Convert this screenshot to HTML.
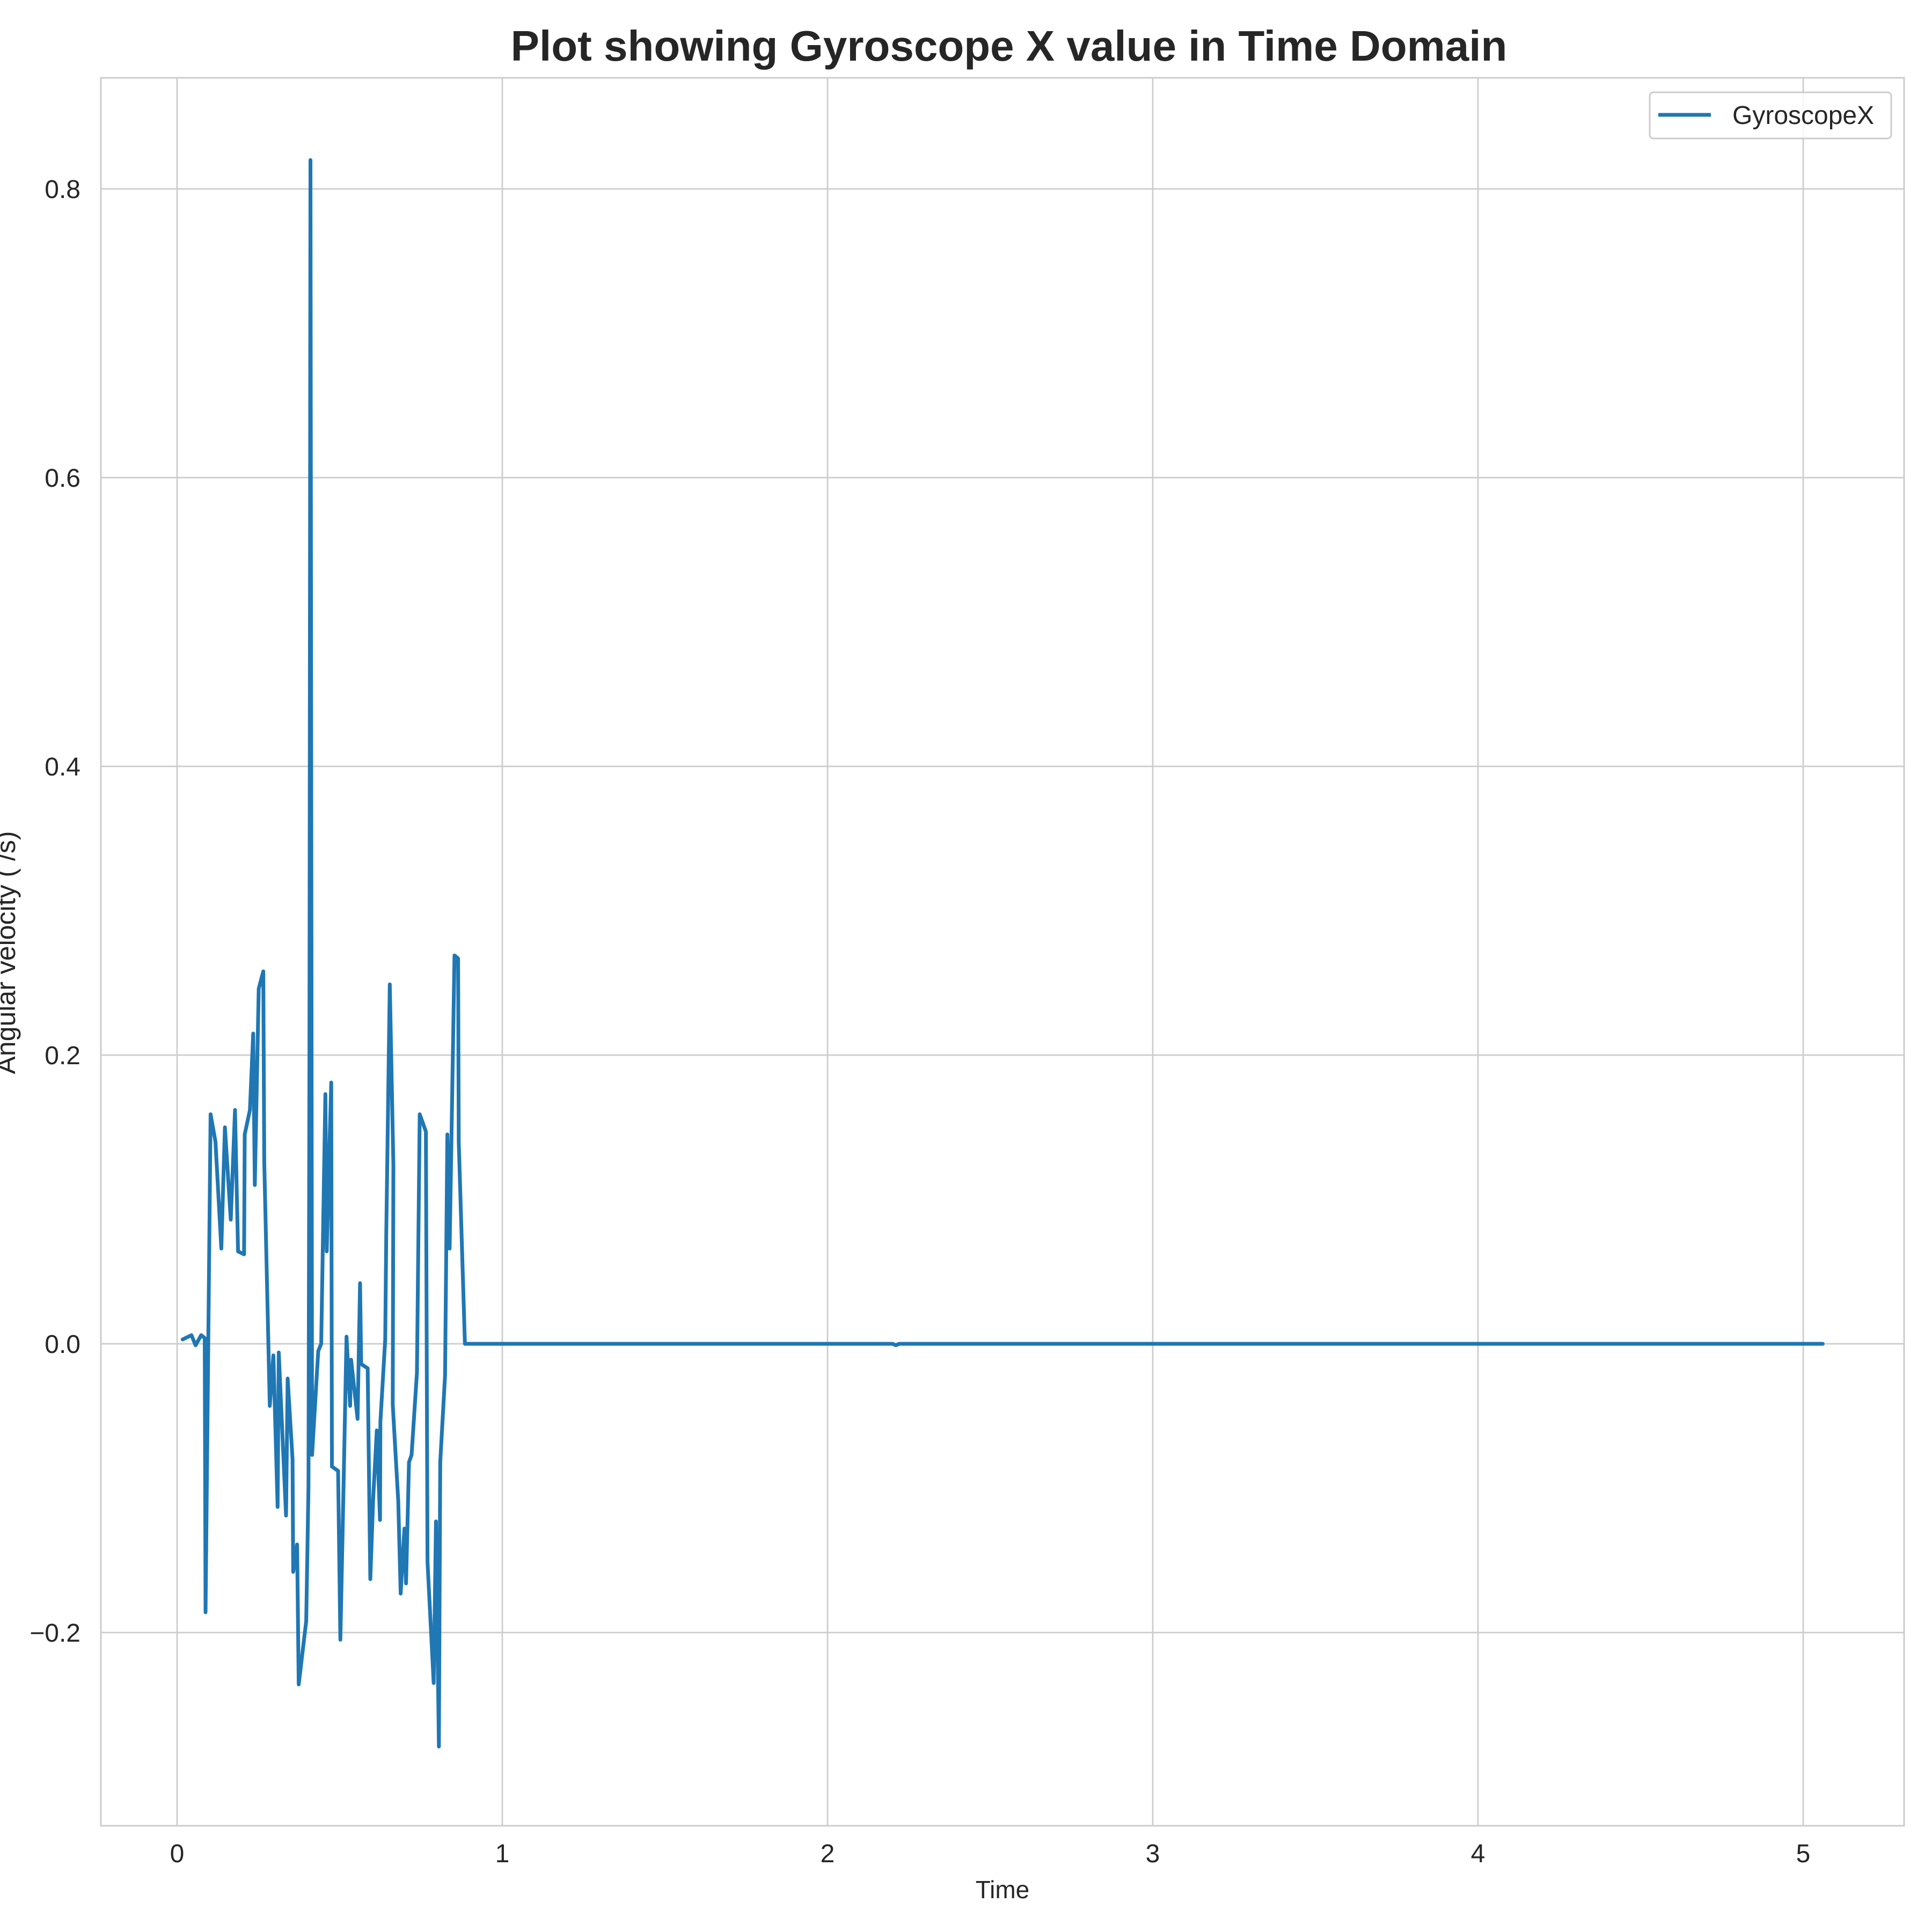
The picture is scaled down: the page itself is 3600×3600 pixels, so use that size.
<!DOCTYPE html>
<html><head><meta charset="utf-8"><style>
html,body{margin:0;padding:0;background:#fff}
svg{display:block}
text{font-family:"Liberation Sans",Arial,sans-serif;fill:#262626}
</style></head><body>
<svg id="chart" width="3600" height="3600" viewBox="0 0 3600 3600">
<rect x="0" y="0" width="3600" height="3600" fill="#fff"/>
<g id="grid"></g>
<g id="xticks"></g>
<g id="yticks"></g>
<path id="series" fill="none" stroke="#1f77b4" stroke-width="7" stroke-linejoin="round" stroke-linecap="round"/>
<rect x="188" y="145" width="3360" height="3257" fill="none" stroke="#cccccc" stroke-width="3"/>
<text x="1880" y="113" text-anchor="middle" font-size="80" font-weight="bold">Plot showing Gyroscope X value in Time Domain</text>
<text x="1868" y="3537" text-anchor="middle" font-size="46">Time</text>
<text transform="translate(28,1775) rotate(-90)" text-anchor="middle" font-size="50">Angular velocity ( /s)</text>
<g>
<rect x="3074" y="172" width="450" height="86" rx="7" fill="#fff" fill-opacity="0.8" stroke="#cccccc" stroke-width="3"/>
<line x1="3090" y1="214" x2="3188" y2="214" stroke="#1f77b4" stroke-width="7"/>
<text x="3228" y="231" font-size="48">GyroscopeX</text>
</g>
</svg>
<script>
const times = [0.017,0.044,0.057,0.074,0.085,0.0875,0.103,0.118,0.136,0.147,0.165,0.178,0.1875,0.206,0.208,0.224,0.234,0.239,0.251,0.265,0.268,0.285,0.296,0.309,0.3125,0.335,0.340,0.355,0.357,0.369,0.374,0.397,0.404,0.407,0.410,0.415,0.434,0.443,0.456,0.460,0.474,0.476,0.495,0.502,0.511,0.521,0.532,0.535,0.555,0.5625,0.566,0.586,0.594,0.603,0.614,0.624,0.625,0.640,0.643,0.654,0.665,0.663,0.680,0.6875,0.699,0.704,0.713,0.721,0.7375,0.746,0.765,0.770,0.789,0.796,0.805,0.809,0.824,0.831,0.838,0.853,0.864,0.866,0.885,2.2,2.21,2.22,5.06];
const gyroX = [0.003,0.006,-0.001,0.006,0.004,-0.186,0.159,0.14,0.066,0.15,0.086,0.162,0.064,0.062,0.145,0.162,0.215,0.11,0.246,0.258,0.126,-0.043,-0.008,-0.113,-0.006,-0.119,-0.024,-0.08,-0.158,-0.139,-0.236,-0.192,-0.099,0.2,0.82,-0.077,-0.005,0.0,0.173,0.064,0.181,-0.085,-0.088,-0.205,-0.107,0.005,-0.043,-0.011,-0.052,0.042,-0.014,-0.017,-0.163,-0.107,-0.06,-0.122,-0.054,0.003,0.075,0.249,0.124,-0.042,-0.109,-0.173,-0.128,-0.166,-0.082,-0.077,-0.020,0.159,0.147,-0.151,-0.235,-0.123,-0.279,-0.082,-0.022,0.145,0.066,0.269,0.267,0.140,0.0,0.0,-0.001,0.0,0.0];
const xTicks = [0,1,2,3,4,5];
const yTicks = [-0.2,0.0,0.2,0.4,0.6,0.8];
const yTickLabels = ["\u22120.2","0.0","0.2","0.4","0.6","0.8"];

const NS = "http://www.w3.org/2000/svg";
const X0 = 188, X1 = 3548, Y0 = 145, Y1 = 3402;
function xs(t){ return 330 + t * 606; }
function ys(v){ return 2504 - v * 2690; }
const grid = document.getElementById('grid');
const xt = document.getElementById('xticks');
const yt = document.getElementById('yticks');
xTicks.forEach(t => {
  const l = document.createElementNS(NS,'line');
  
  
  l.setAttribute('x1',xs(t)); l.setAttribute('x2',xs(t));
  l.setAttribute('y1',Y0); l.setAttribute('y2',Y1);
  l.setAttribute('stroke','#cccccc'); l.setAttribute('stroke-width','2.7');
  grid.appendChild(l);
  const tx = document.createElementNS(NS,'text');
  
  
  tx.setAttribute('x',xs(t)); tx.setAttribute('y',3470);
  tx.setAttribute('text-anchor','middle'); tx.setAttribute('font-size','48');
  tx.textContent = String(t);
  xt.appendChild(tx);
});
yTicks.forEach((v,i) => {
  const l = document.createElementNS(NS,'line');
  
  
  l.setAttribute('x1',X0); l.setAttribute('x2',X1);
  l.setAttribute('y1',ys(v)); l.setAttribute('y2',ys(v));
  l.setAttribute('stroke','#cccccc'); l.setAttribute('stroke-width','2.7');
  grid.appendChild(l);
  const tx = document.createElementNS(NS,'text');
  
  
  tx.setAttribute('x',150); tx.setAttribute('y',ys(v)+17);
  tx.setAttribute('text-anchor','end'); tx.setAttribute('font-size','48');
  tx.textContent = yTickLabels[i];
  yt.appendChild(tx);
});
let d = '';
times.forEach((t,i) => { d += (i ? 'L' : 'M') + xs(t).toFixed(1) + ',' + ys(gyroX[i]).toFixed(1); });
document.getElementById('series').setAttribute('d', d);
</script>
</body></html>
